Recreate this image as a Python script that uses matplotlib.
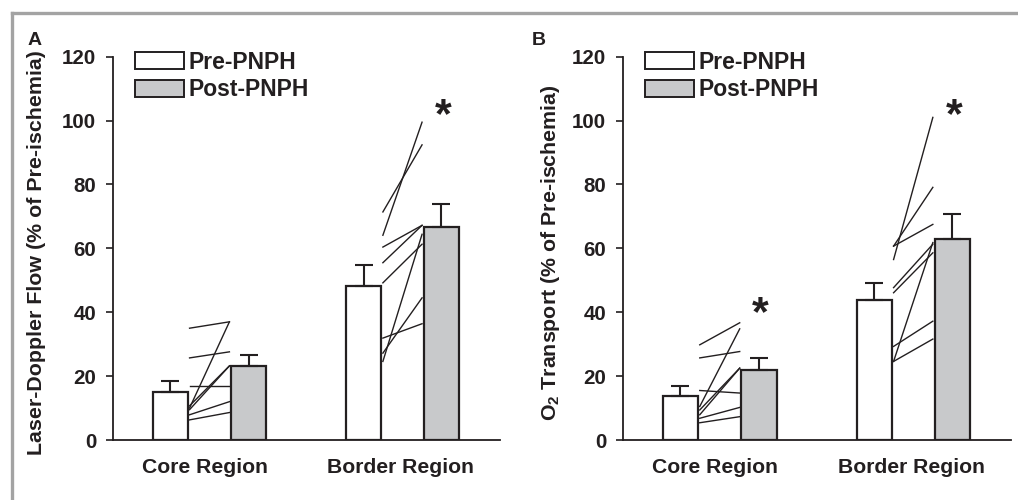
import matplotlib.pyplot as plt
from matplotlib.patches import Patch
from matplotlib.lines import Line2D
import numpy as np

plt.rcParams['font.family'] = ['Liberation Sans', 'DejaVu Sans']
plt.rcParams['font.weight'] = 'bold'
plt.rcParams['mathtext.fontset'] = 'custom'
plt.rcParams['mathtext.rm'] = 'Liberation Sans:bold'
plt.rcParams['mathtext.bf'] = 'Liberation Sans:bold'

# categories / series
regions = ['Core Region', 'Border Region']
series = ['Pre-PNPH', 'Post-PNPH']

# panel A: laser-doppler flow, means and SEM (upper only)
a_pre_mean = [15.1, 48.2]
a_pre_err = [3.4, 6.5]
a_post_mean = [23.1, 66.7]
a_post_err = [3.6, 7.3]
# individual animals (pre -> post)
a_core_pre = [35.0, 25.7, 17.0, 10.0, 10.7, 9.5, 7.9, 6.3]
a_core_post = [37.0, 27.6, 17.0, 37.0, 23.2, 23.2, 12.0, 8.6]
a_border_pre = [71.4, 64.1, 60.4, 55.5, 49.2, 31.9, 27.2, 24.6]
a_border_post = [92.4, 99.5, 67.2, 67.2, 61.3, 36.4, 44.5, 64.4]
a_stars = [None, 101.5]

# panel B: O2 transport
b_pre_mean = [13.8, 43.7]
b_pre_err = [3.2, 5.5]
b_post_mean = [22.0, 62.8]
b_post_err = [3.7, 7.9]
b_core_pre = [29.8, 25.7, 15.5, 10.5, 9.4, 7.9, 6.8, 5.4]
b_core_post = [36.7, 27.7, 14.7, 34.8, 22.5, 22.5, 10.2, 7.3]
b_border_pre = [56.5, 60.7, 60.7, 47.7, 46.1, 29.3, 24.6, 24.6]
b_border_post = [101.0, 79.1, 67.5, 61.3, 58.6, 37.2, 61.8, 31.6]
b_stars = [39.5, 101.5]

pre_pos = np.array([1.64, 7.17])
post_pos = np.array([3.88, 9.39])
grp_pos = (pre_pos + post_pos) / 2 - np.array([0.13, 0.05])
bw = 1.0
gray = '#c8c9cb'
edge = '#231f20'


def panel(ax, pre_m, pre_e, post_m, post_e, indiv, stars, ylabel, letter, lx, letx):
    ax.bar(pre_pos, pre_m, bw, color='white', edgecolor=edge, linewidth=1.6,
           yerr=[np.zeros(2), pre_e], error_kw=dict(ecolor=edge, elinewidth=1.5, capsize=6.5, capthick=1.5),
           zorder=3)
    ax.bar(post_pos, post_m, bw, color=gray, edgecolor=edge, linewidth=1.6,
           yerr=[np.zeros(2), post_e], error_kw=dict(ecolor=edge, elinewidth=1.5, capsize=6.5, capthick=1.5),
           zorder=3)
    for i, (pre, post) in enumerate(indiv):
        for p0, p1 in zip(pre, post):
            ax.plot([pre_pos[i] + bw / 2 + 0.05, post_pos[i] - bw / 2 - 0.05], [p0, p1],
                    color=edge, lw=1.0, zorder=2)
    for i, s in enumerate(stars):
        if s is not None:
            ax.text(post_pos[i] + 0.05, s, '*', ha='center', va='center', fontsize=31,
                    fontweight='bold', color=edge)
    ax.set_xlim(0, 11.07)
    ax.set_ylim(0, 120)
    ax.set_yticks(np.arange(0, 121, 20))
    ax.set_xticks(grp_pos)
    ax.set_xticklabels(regions, fontsize=15.2, fontweight='bold', color=edge)
    ax.tick_params(axis='x', length=0, pad=13)
    ax.tick_params(axis='y', length=5, width=1.2, pad=7, labelsize=14.8, colors=edge)
    for t in ax.get_yticklabels():
        t.set_fontweight('bold')
    ax.spines['top'].set_visible(False)
    ax.spines['right'].set_visible(False)
    ax.spines['left'].set_linewidth(1.3)
    ax.spines['bottom'].set_linewidth(1.3)
    ax.spines['left'].set_color(edge)
    ax.spines['bottom'].set_color(edge)
    ax.set_ylabel(ylabel, fontsize=15.4, fontweight='bold', color=edge)
    ax.yaxis.set_label_coords(lx, 0.49)
    handles = [Patch(facecolor='white', edgecolor=edge, linewidth=1.4, label=series[0]),
               Patch(facecolor=gray, edgecolor=edge, linewidth=1.4, label=series[1])]
    ax.legend(handles=handles, loc='upper left', bbox_to_anchor=(0.032, 1.04), frameon=False,
              prop=dict(size=16.5, weight='bold'), handlelength=2.15, handleheight=0.75,
              handletextpad=0.2, labelspacing=0.2, borderaxespad=0, labelcolor=edge)
    ax.text(letx, 1.02, letter, transform=ax.transAxes, fontsize=14, fontweight='bold',
            color=edge, ha='left', va='bottom')


fig = plt.figure(figsize=(10.18, 5.0), dpi=100)
axA = fig.add_axes([113 / 1018, 0.12, 387 / 1018, 0.7666])
axB = fig.add_axes([623 / 1018, 0.12, 388 / 1018, 0.7666])

panel(axA, a_pre_mean, a_pre_err, a_post_mean, a_post_err,
      [(a_core_pre, a_core_post), (a_border_pre, a_border_post)], a_stars,
      'Laser-Doppler Flow (% of Pre-ischemia)', 'A', -0.172, -0.22)
panel(axB, b_pre_mean, b_pre_err, b_post_mean, b_post_err,
      [(b_core_pre, b_core_post), (b_border_pre, b_border_post)], b_stars,
      'O$_2$ Transport (% of Pre-ischemia)', 'B', -0.158, -0.235)

# gray outer frame (top and left edges)
fig.add_artist(Line2D([12 / 1018, 1.0], [1 - 13 / 500, 1 - 13 / 500], color='#a3a3a3', lw=2.4,
                      transform=fig.transFigure))
fig.add_artist(Line2D([12 / 1018, 12 / 1018], [0, 1 - 13 / 500], color='#a3a3a3', lw=2.4,
                      transform=fig.transFigure))

fig.savefig('out.png', dpi=100)
